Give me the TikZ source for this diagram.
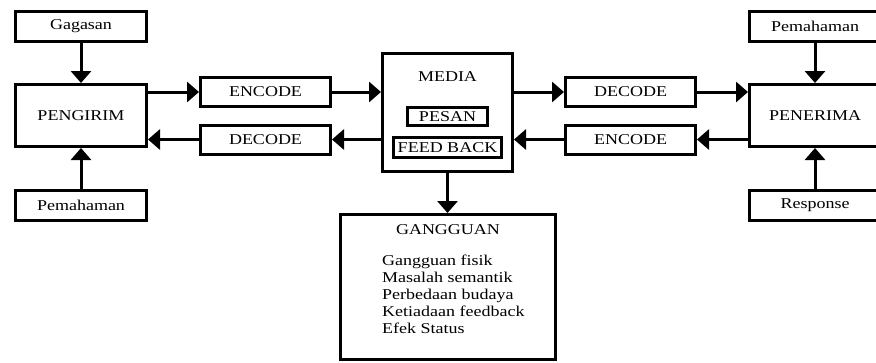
\documentclass[tikz,border=0pt]{standalone}
\usepackage{fontspec}
\setmainfont{Liberation Serif}[FakeStretch=1.2]
\usetikzlibrary{arrows.meta}
\begin{document}
\begin{tikzpicture}[x=1pt,y=-1pt,
  box/.style={draw,line width=3pt,inner sep=0pt,minimum width=#1},
  box/.default=131pt,
  lbl/.style={inner sep=0pt},
  arr/.style={line width=3pt,-{Triangle[width=20pt,length=12pt]}},
  every node/.style={font=\fontsize{15pt}{17pt}\selectfont}]
\useasboundingbox (0,0) rectangle (876,362);
\clip (0,0) rectangle (876,362);
% left side
\node[box,minimum height=30pt] (gag) at (81,26.5) {Gagasan};
\node[box,minimum height=62pt] (peng) at (81,115.5) {PENGIRIM};
\node[box,minimum height=30pt] (pemL) at (81,205.5) {Pemahaman};
\node[box=130pt,minimum height=29pt] (encL) at (265.5,92) {ENCODE};
\node[box=130pt,minimum height=29pt] (decL) at (265.5,139.5) {DECODE};
% media
\node[box=130pt,minimum height=118pt] (med) at (447.5,112.5) {};
\node[lbl] (medt) at (447.5,77) {MEDIA};
\node[box=80pt,minimum height=18pt] (pesan) at (447.5,116.5) {PESAN};
\node[box=108pt,minimum height=20pt] (fb) at (447.5,147.5) {FEED BACK};
% right side
\node[box=130pt,minimum height=29pt] (decR) at (630.5,92) {DECODE};
\node[box=130pt,minimum height=29pt] (encR) at (630.5,139.5) {ENCODE};
\node[box,minimum height=30pt] (pemR) at (815,26.5) {Pemahaman};
\node[box,minimum height=62pt] (pene) at (815,115.5) {PENERIMA};
\node[box,minimum height=30pt] (resp) at (815,205.5) {Response};
% gangguan
\node[box=215pt,minimum height=145pt] (gang) at (447.5,287) {};
\node[lbl] (gangt) at (448,230) {GANGGUAN};
\node[lbl,anchor=north west,align=left] (gangl) at (382,255)
  {Gangguan fisik\\Masalah semantik\\Perbedaan budaya\\Ketiadaan feedback\\Efek Status};
% arrows
\draw[arr] (gag.south) -- (peng.north);
\draw[arr] (pemL.north) -- (peng.south);
\draw[arr] (peng.east |- encL.west) -- (encL.west);
\draw[arr] (encL.east) -- (med.west |- encL.east);
\draw[arr] (med.west |- decL.east) -- (decL.east);
\draw[arr] (decL.west) -- (peng.east |- decL.west);
\draw[arr] (med.east |- decR.west) -- (decR.west);
\draw[arr] (decR.east) -- (pene.west |- decR.east);
\draw[arr] (pene.west |- encR.east) -- (encR.east);
\draw[arr] (encR.west) -- (med.east |- encR.west);
\draw[arr] (pemR.south) -- (pene.north);
\draw[arr] (resp.north) -- (pene.south);
\draw[arr] (med.south) -- (med.south |- gang.north);
\end{tikzpicture}
\end{document}
